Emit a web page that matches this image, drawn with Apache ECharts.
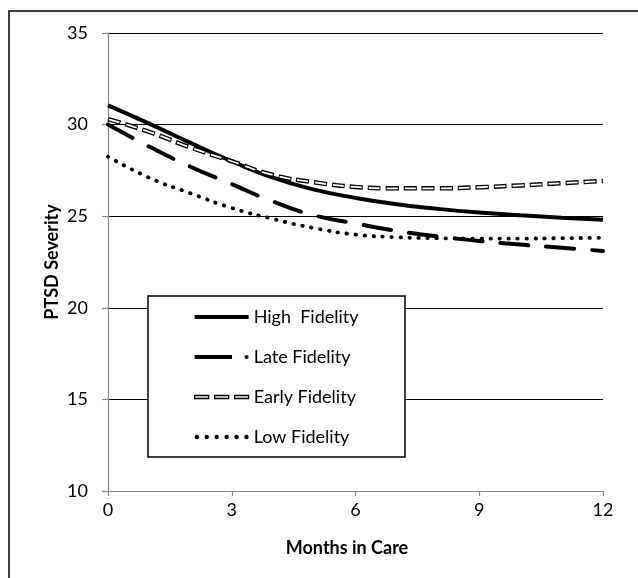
<!DOCTYPE html>
<html>
<head>
<meta charset="utf-8">
<script src="https://cdn.jsdelivr.net/npm/echarts@6/dist/echarts.min.js"></script>
<style>html,body{margin:0;padding:0;background:#fff;}#c{width:638px;height:578px;}</style>
</head>
<body>
<div id="c"></div>
<script>
const months = [0,1,2,3,4,5,6,7,8,9,10,11,12];
const highFidelity  = [31.05,30.05,29.0,28.0,27.1,26.45,26.0,25.65,25.4,25.2,25.05,24.92,24.8];
const lateFidelity  = [30.0,28.8,27.7,26.75,25.8,25.05,24.6,24.2,23.9,23.65,23.45,23.28,23.1];
const earlyFidelity = [30.3,29.6,28.75,28.0,27.25,26.85,26.6,26.52,26.52,26.58,26.68,26.8,26.92];
const lowFidelity   = [28.25,27.1,26.25,25.45,24.85,24.35,24.0,23.85,23.8,23.78,23.78,23.8,23.82];
const xTicks = [0,3,6,9,12];
const yTicks = [10,15,20,25,30,35];
const seriesNames = ['High  Fidelity','Late Fidelity','Early Fidelity','Low Fidelity'];

const pts = arr => months.map((m,i)=>[m,arr[i]]);
const font = 'Lato, "Open Sans", sans-serif';

const chart = echarts.init(document.getElementById('c'), null, {renderer:'canvas'});
chart.setOption({
  animation:false,
  backgroundColor:'#fff',
  grid:{left:108,right:35,top:33,bottom:87},
  xAxis:{
    type:'value', min:xTicks[0], max:xTicks[xTicks.length-1], interval:3,
    name:'Months in Care', nameLocation:'middle', nameGap:48, nameMoveOverlap:false,
    nameTextStyle:{fontFamily:font,fontSize:18,fontWeight:'bold',color:'#000',padding:[0,17,0,0]},
    axisLine:{show:true,lineStyle:{color:'#868686',width:1.2}},
    axisTick:{show:true,length:5,lineStyle:{color:'#868686',width:1.2}},
    axisLabel:{fontFamily:font,fontSize:18,color:'#000',margin:10},
    splitLine:{show:false}
  },
  yAxis:{
    type:'value', min:yTicks[0], max:yTicks[yTicks.length-1], interval:5,
    name:'PTSD Severity', nameLocation:'middle', nameGap:47, nameMoveOverlap:false,
    nameTextStyle:{fontFamily:font,fontSize:18,fontWeight:'bold',color:'#000'},
    axisLine:{show:true,lineStyle:{color:'#868686',width:1.2}},
    axisTick:{show:true,length:6,lineStyle:{color:'#868686',width:1.2}},
    axisLabel:{fontFamily:font,fontSize:18,color:'#000',margin:20},
    splitLine:{show:true,lineStyle:{color:'#000',width:1.2}}
  },
  legend:{
    left:194, top:306, orient:'vertical', padding:0,
    itemWidth:54, itemHeight:14, itemGap:18, selectedMode:false, z:5,
    textStyle:{fontFamily:font,fontSize:18,color:'#000',lineHeight:22},
    data:[
      {name:seriesNames[0], icon:'path://M0,0H54V4H0Z', itemStyle:{color:'#000'}},
      {name:seriesNames[1], icon:'path://M0,0H36V4H0Z M50,0A2,2 0 1 1 50,4A2,2 0 1 1 50,0Z', itemStyle:{color:'#000'}},
      {name:seriesNames[2], icon:'path://M0,0H14V3H0Z M20,0H34V3H20Z M40,0H54V3H40Z', itemStyle:{color:'#fff',borderColor:'#000',borderWidth:1.3}},
      {name:seriesNames[3], icon:'path://M2,0A2,2 0 1 1 2,4A2,2 0 1 1 2,0Z M11,0A2,2 0 1 1 11,4A2,2 0 1 1 11,0Z M20,0A2,2 0 1 1 20,4A2,2 0 1 1 20,0Z M29,0A2,2 0 1 1 29,4A2,2 0 1 1 29,0Z M38,0A2,2 0 1 1 38,4A2,2 0 1 1 38,0Z M47,0A2,2 0 1 1 47,4A2,2 0 1 1 47,0Z', itemStyle:{color:'#000'}}
    ]
  },
  graphic:[
    {type:'rect', z:-10, shape:{x:9,y:11,width:800,height:800}, style:{fill:'none',stroke:'#000',lineWidth:1.5}, silent:true},
    {type:'rect', z:3, shape:{x:148,y:296,width:257,height:161}, style:{fill:'#fff',stroke:'#000',lineWidth:1.5}, silent:true}
  ],
  series:[
    {name:seriesNames[0], type:'line', smooth:true, symbol:'none', color:'#000', z:2,
     lineStyle:{color:'#000',width:4}, data:pts(highFidelity)},
    {name:seriesNames[1], type:'line', smooth:true, symbol:'none', color:'#000', z:2,
     lineStyle:{color:'#000',width:4,type:[28,18],cap:'round'}, data:pts(lateFidelity)},
    {name:seriesNames[2], type:'line', smooth:true, symbol:'none', color:'#000', z:2,
     lineStyle:{color:'#000',width:4.5,type:[13,5]}, data:pts(earlyFidelity)},
    {name:'Early Fidelity inner', type:'line', smooth:true, symbol:'none', color:'#fff', z:2.1,
     lineStyle:{color:'#fff',width:1.8,type:[11,7],dashOffset:17}, data:pts(earlyFidelity)},
    {name:seriesNames[3], type:'line', smooth:true, symbol:'none', color:'#000', z:2,
     lineStyle:{color:'#000',width:3.8,type:[0.5,8.5],cap:'round'}, data:pts(lowFidelity)}
  ]
});
</script>
</body>
</html>
